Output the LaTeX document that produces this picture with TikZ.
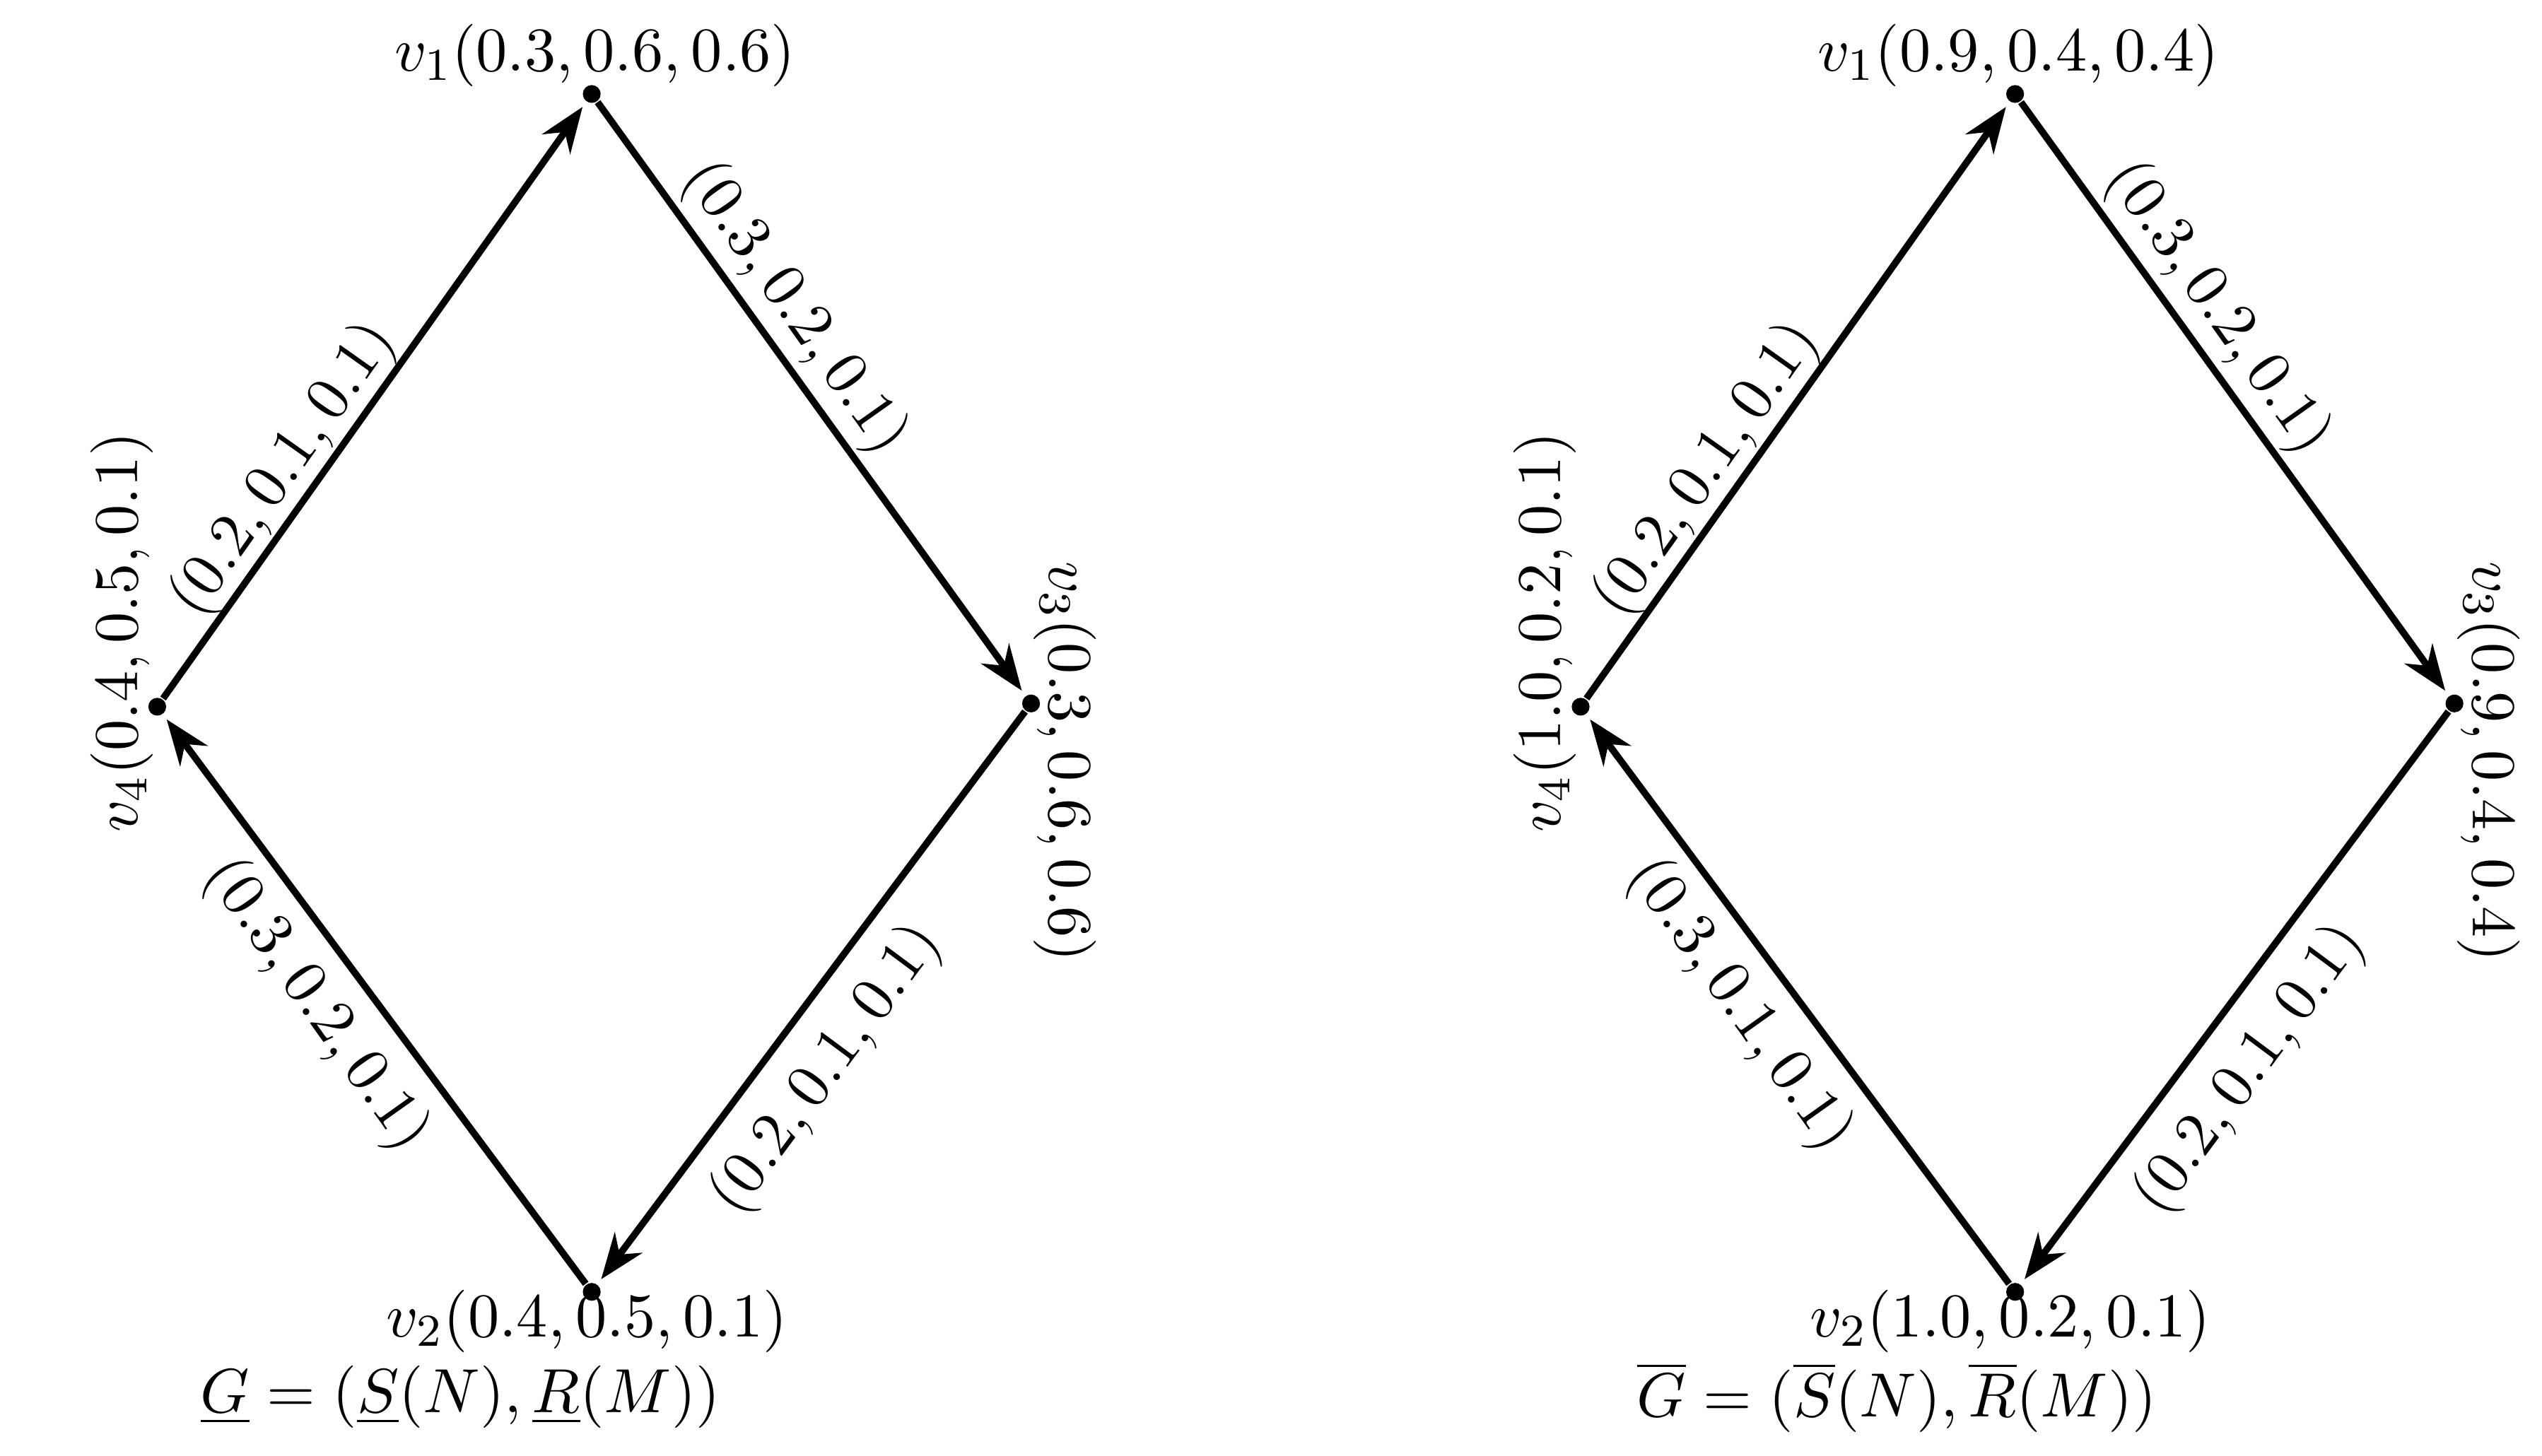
\documentclass[tikz,border=0pt]{standalone}
\usetikzlibrary{arrows.meta}
\begin{document}
\begin{tikzpicture}[x=0.01cm,y=-0.01cm,
  dot/.style={circle,fill=black,inner sep=0pt,minimum size=0.11cm},
  edge/.style={line width=1.2pt,-{Stealth[length=8pt,width=6pt]},shorten >=1pt},
  lab/.style={font=\fontsize{11}{13}\selectfont,inner sep=0pt}]
\useasboundingbox (0,0) rectangle (1568,898);
\foreach \dx/\p in {0/L,878/R}{
  \node[dot] (\p1) at (365+\dx,58) {};
  \node[dot] (\p4) at (97+\dx,436) {};
  \node[dot] (\p3) at (636+\dx,434) {};
  \node[dot] (\p2) at (365+\dx,797) {};
  \draw[edge] (\p4) -- (\p1);
  \draw[edge] (\p1) -- (\p3);
  \draw[edge] (\p3) -- (\p2);
  \draw[edge] (\p2) -- (\p4);
  \node[lab,rotate=54.7] (\p a) at (175+\dx,290) {$(0.2,0.1,0.1)$};
  \node[lab,rotate=53.4] (\p c) at (510+\dx,660) {$(0.2,0.1,0.1)$};
}
\node[lab,rotate=-54.7] (La2) at (490,190) {$(0.3,0.2,0.1)$};
\node[lab,rotate=-54.6] (Lb2) at (195,620) {$(0.3,0.2,0.1)$};
\node[lab,rotate=-54.7] (Ra2) at (1368,190) {$(0.3,0.2,0.1)$};
\node[lab,rotate=-54.6] (Rb2) at (1073,620) {$(0.3,0.1,0.1)$};
\node[lab] (Lv1) at (367,34) {$v_1(0.3,0.6,0.6)$};
\node[lab] (Lv2) at (362,815) {$v_2(0.4,0.5,0.1)$};
\node[lab,rotate=-90] (Lv3) at (657,470) {$v_3(0.3,0.6,0.6)$};
\node[lab,rotate=90] (Lv4) at (75,390) {$v_4(0.4,0.5,0.1)$};
\node[lab] (Rv1) at (1245,34) {$v_1(0.9,0.4,0.4)$};
\node[lab] (Rv2) at (1240,815) {$v_2(1.0,0.2,0.1)$};
\node[lab,rotate=-90] (Rv3) at (1535,470) {$v_3(0.9,0.4,0.4)$};
\node[lab,rotate=90] (Rv4) at (953,390) {$v_4(1.0,0.2,0.1)$};
\node[lab] (Lg) at (284,862) {$\underline{G}=(\underline{S}(N),\underline{R}(M))$};
\node[lab] (Rg) at (1170,862) {$\overline{G}=(\overline{S}(N),\overline{R}(M))$};
\end{tikzpicture}
\end{document}
